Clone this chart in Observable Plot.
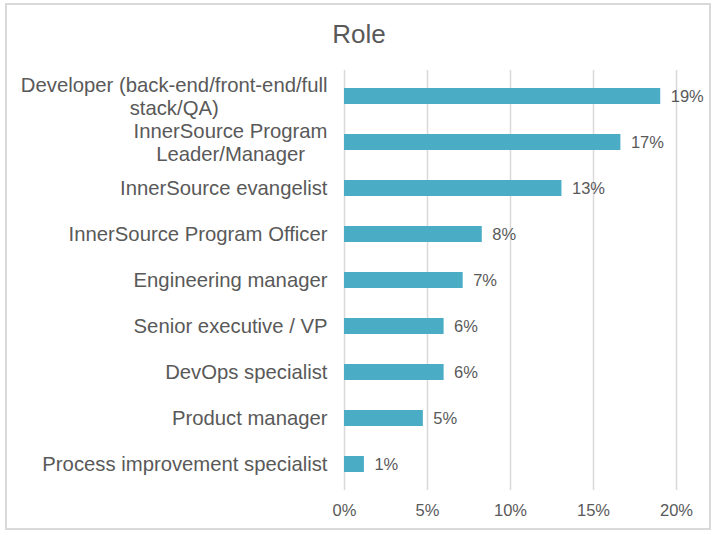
<!DOCTYPE html>
<html><head><meta charset="utf-8">
<script src="https://cdn.jsdelivr.net/npm/d3@7"></script>
<script src="https://cdn.jsdelivr.net/npm/@observablehq/plot@0.6"></script>
<style>
body{margin:0;background:#fff;}
#wrap{position:relative;width:716px;height:535px;overflow:hidden;font-family:"Liberation Sans",Arial,sans-serif;}
#frame{position:absolute;left:5px;top:3px;width:702px;height:523px;border:2px solid #d9d9d9;pointer-events:none;}
#title{position:absolute;left:0;width:718px;top:18px;text-align:center;font-size:26px;color:#595959;line-height:32px;}
#chart{position:absolute;left:0;top:0;}
</style></head><body>
<div id="wrap"><div id="chart"></div><div id="title">Role</div><div id="frame"></div></div>
<script>
const roles = [
  "Developer (back-end/front-end/full stack/QA)",
  "InnerSource Program Leader/Manager",
  "InnerSource evangelist",
  "InnerSource Program Officer",
  "Engineering manager",
  "Senior executive / VP",
  "DevOps specialist",
  "Product manager",
  "Process improvement specialist"
];
const roleLabels = [
  "Developer (back-end/front-end/full\nstack/QA)",
  "InnerSource Program\nLeader/Manager",
  "InnerSource evangelist",
  "InnerSource Program Officer",
  "Engineering manager",
  "Senior executive / VP",
  "DevOps specialist",
  "Product manager",
  "Process improvement specialist"
];
const shares = [19.05, 16.65, 13.1, 8.3, 7.15, 6.0, 6.0, 4.75, 1.2];
const valueLabels = ["19%", "17%", "13%", "8%", "7%", "6%", "6%", "5%", "1%"];
const xTicks = [0, 5, 10, 15, 20];

const data = roles.map((r, i) => ({role: r, label: roleLabels[i], share: shares[i], text: valueLabels[i]}));
const labelSize = 20.3;
const ctx = document.createElement("canvas").getContext("2d");
ctx.font = labelSize + 'px "Liberation Sans", Arial, sans-serif';
const blockWidth = s => Math.max(...s.split("\n").map(l => ctx.measureText(l).width));
const single = data.filter(d => !d.label.includes("\n"));
const multi = data.filter(d => d.label.includes("\n"));
const grey = "#595959";

const chart = Plot.plot({
  width: 716,
  height: 535,
  marginLeft: 344,
  marginRight: 40,
  marginTop: 70,
  marginBottom: 45,
  style: {fontFamily: '"Liberation Sans", Arial, sans-serif', background: "transparent", color: grey},
  x: {domain: [0, 20], label: null},
  y: {domain: roles, paddingInner: 0.655, paddingOuter: 0.3275, axis: null},
  marks: [
    Plot.ruleX(xTicks, {stroke: "#d9d9d9", strokeWidth: 1.5}),
    Plot.barX(data, {y: "role", x: "share", fill: "#4bacc6"}),
    Plot.text(data, {y: "role", x: "share", text: "text", textAnchor: "start", dx: 10, fill: grey, fontSize: 16.5}),
    Plot.text(single, {y: "role", text: "label", frameAnchor: "left", textAnchor: "end", dx: -17, fontSize: labelSize, fill: grey}),
    ...multi.map(d => Plot.text([d], {y: "role", text: "label", frameAnchor: "left", textAnchor: "middle",
      dx: -17 - blockWidth(d.label) / 2, lineHeight: 1.13, fontSize: labelSize, fill: grey})),
    Plot.axisX({ticks: xTicks, tickFormat: d => d + "%", tickSize: 0, tickPadding: 14, fontSize: 16.5, fill: grey, label: null})
  ]
});
document.getElementById("chart").append(chart);
</script>
</body></html>
